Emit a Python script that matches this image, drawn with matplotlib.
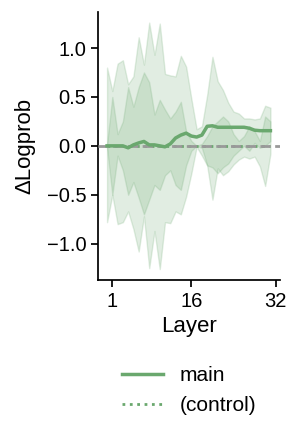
import matplotlib
matplotlib.use('Agg')
import matplotlib.pyplot as plt
import numpy as np

plt.rcParams['font.family'] = ['Liberation Sans', 'DejaVu Sans']

layers = np.arange(32)

# mean delta logprob per layer
main = [0.00, 0.00, 0.00, 0.00, -0.02, 0.01, 0.03, 0.045, 0.01, 0.01, 0.00, -0.01,
        0.02, 0.08, 0.11, 0.13, 0.10, 0.09, 0.11, 0.20, 0.205, 0.19, 0.19, 0.19,
        0.19, 0.19, 0.19, 0.18, 0.16, 0.155, 0.155, 0.155]
control = [0.0] * 32

# wide band
outer_hi = [0.80, 0.56, 0.84, 0.875, 0.63, 0.71, 1.11, 0.83, 1.26, 0.93, 1.25, 0.735,
            0.72, 0.71, 0.92, 0.81, 0.48, 0.17, 0.20, 0.52, 0.91, 0.66, 0.57, 0.44,
            0.35, 0.33, 0.28, 0.28, 0.27, 0.28, 0.41, 0.39]
outer_lo = [-0.78, -0.50, -0.80, -0.78, -0.67, -0.85, -1.08, -0.72, -1.25, -0.87, -1.26, -0.78,
            -0.79, -0.67, -0.70, -0.52, -0.28, -0.01, -0.10, -0.20, -0.55, -0.23, -0.30, -0.26,
            -0.19, -0.14, -0.11, -0.13, -0.11, -0.21, -0.41, -0.08]
# narrow band
inner_hi = [0.02, 0.50, 0.12, 0.25, 0.60, 0.40, 0.60, 0.75, 0.65, 0.32, 0.47, 0.37,
            0.28, 0.35, 0.45, 0.15, 0.05, 0.00, 0.02, 0.10, 0.20, 0.25, 0.30, 0.25,
            0.12, 0.05, 0.10, 0.20, 0.15, 0.05, 0.30, 0.25]
inner_lo = [-0.02, -0.50, -0.10, -0.25, -0.50, -0.37, -0.53, -0.70, -0.55, -0.40, -0.45, -0.30,
            -0.25, -0.40, -0.45, -0.20, -0.05, 0.00, -0.02, -0.20, -0.22, -0.28, -0.22, -0.18,
            -0.10, -0.05, 0.00, -0.05, 0.03, -0.02, 0.00, 0.05]

green = '#6aa86e'

fig = plt.figure(figsize=(3.0, 4.38), dpi=100)
ax = fig.add_axes([0.327, 0.361, 0.606, 0.612])

ax.fill_between(layers, outer_lo, outer_hi, color=green, alpha=0.2, lw=1)
ax.fill_between(layers, inner_lo, inner_hi, color=green, alpha=0.2, lw=1)
ax.plot(layers, control, color=green, ls=':', lw=2, label='(control)', zorder=3)
ax.axhline(0, color='#999999', ls='--', lw=2, zorder=4)
ax.plot(layers, main, color=green, lw=2.5, label='main', zorder=5)

ax.set_xlim(-1.7, 32.8)
ax.set_ylim(-1.37, 1.37)
ax.set_xticks([1, 16, 32])
ax.set_yticks([-1.0, -0.5, 0.0, 0.5, 1.0])
ax.tick_params(labelsize=14.5, length=5, width=1.25)
ax.set_xlabel('Layer', fontsize=16)
ax.set_ylabel('ΔLogprob', fontsize=16, labelpad=8)
for s in ['top', 'right']:
    ax.spines[s].set_visible(False)
for s in ['left', 'bottom']:
    ax.spines[s].set_linewidth(1.25)

h, l = ax.get_legend_handles_labels()
fig.legend([h[1], h[0]], [l[1], l[0]], loc='center', bbox_to_anchor=(0.63, 0.108),
           frameon=False, fontsize=15)

fig.savefig('out.png', dpi=100)
